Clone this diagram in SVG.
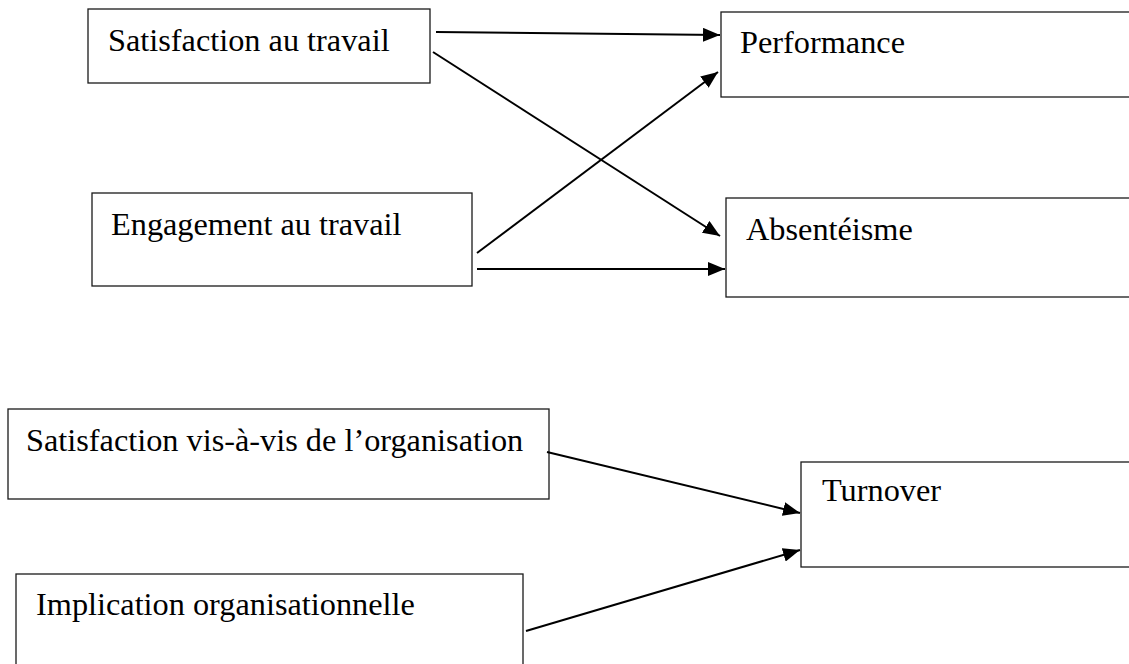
<svg xmlns="http://www.w3.org/2000/svg" width="1129" height="664" viewBox="0 0 1129 664">
  <style>
    .box { fill: #ffffff; stroke: #1a1a1a; stroke-width: 1.3; }
    .label { font-family: "Liberation Serif", "Times New Roman", serif; font-size: 32.3px; fill: #000000; }
    .edge { stroke: #000000; stroke-width: 2; fill: none; marker-end: url(#arrow); }
  </style>
  <defs>
    <marker id="arrow" markerUnits="userSpaceOnUse" markerWidth="17" markerHeight="14" refX="17" refY="7" orient="auto">
      <path d="M0,0 L17,7 L0,14 z" fill="#000000"/>
    </marker>
  </defs>
  <rect width="1129" height="664" fill="#ffffff"/>

  <g id="satisfaction-travail">
    <rect class="box" x="88" y="9" width="342" height="74"/>
    <text class="label" x="108" y="51">Satisfaction au travail</text>
  </g>
  <g id="performance">
    <rect class="box" x="721" y="12" width="420" height="85"/>
    <text class="label" x="740" y="53">Performance</text>
  </g>
  <g id="engagement-travail">
    <rect class="box" x="92" y="193" width="380" height="93"/>
    <text class="label" x="111" y="235">Engagement au travail</text>
  </g>
  <g id="absenteisme">
    <rect class="box" x="726" y="198" width="420" height="99"/>
    <text class="label" x="746" y="240">Absentéisme</text>
  </g>
  <g id="satisfaction-organisation">
    <rect class="box" x="8" y="409" width="541" height="90"/>
    <text class="label" x="26" y="451">Satisfaction vis-à-vis de l’organisation</text>
  </g>
  <g id="turnover">
    <rect class="box" x="801" y="462" width="340" height="105"/>
    <text class="label" x="822" y="501">Turnover</text>
  </g>
  <g id="implication-organisationnelle">
    <rect class="box" x="16" y="574" width="507" height="100"/>
    <text class="label" x="36" y="615">Implication organisationnelle</text>
  </g>

  <g id="connectors">
    <line class="edge" x1="436" y1="32" x2="720" y2="35"/>
    <line class="edge" x1="433" y1="52" x2="720" y2="236"/>
    <line class="edge" x1="477" y1="253" x2="718" y2="72"/>
    <line class="edge" x1="477" y1="269" x2="725" y2="269"/>
    <line class="edge" x1="547" y1="452" x2="800" y2="513"/>
    <line class="edge" x1="526" y1="631" x2="800" y2="550"/>
  </g>
</svg>
